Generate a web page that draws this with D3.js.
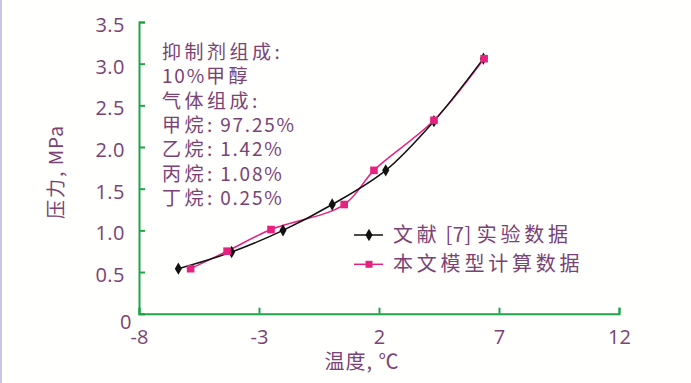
<!DOCTYPE html>
<html><head><meta charset="utf-8">
<script src="https://cdn.jsdelivr.net/npm/d3@7"></script>
<style>
html,body{margin:0;padding:0;background:#fffffd;}
svg{display:block;}
</style></head>
<body>
<svg id="c" width="691" height="383"></svg>
<script>
const xTicks = [-8, -3, 2, 7, 12];
const yTicks = [0, 0.5, 1.0, 1.5, 2.0, 2.5, 3.0, 3.5];
const yTickLabels = ["0", "0.5", "1.0", "1.5", "2.0", "2.5", "3.0", "3.5"];
const expTemp = [-6.36, -4.14, -2.0, 0.05, 2.28, 4.29, 6.35];
const expPres = [0.54, 0.74, 1.0, 1.31, 1.72, 2.31, 3.06];
const modTemp = [-5.85, -4.33, -2.5, 0.55, 1.79, 4.29, 6.38];
const modPres = [0.54, 0.75, 1.01, 1.31, 1.72, 2.32, 3.06];
const seriesNames = ["文献 [7] 实验数据", "本文模型计算数据"];
const noteLines = ["抑制剂组成:", "10%甲醇", "气体组成:", "甲烷: 97.25%", "乙烷: 1.42%", "丙烷: 1.08%", "丁烷: 0.25%"];
const xTitle = "温度, ℃";
const yTitle = "压力, MPa";

const TXT = "#7b4275", GREEN = "#22a34a", PINK = "#e8207f";
const CJK_FONT = "Noto Sans CJK SC, sans-serif";
const svg = d3.select("#c");
svg.append("rect").attr("x",0).attr("y",0).attr("width",2).attr("height",383).attr("fill","#cbc3e3");

const x = d3.scaleLinear().domain([-8, 12]).range([139, 619]);
const y = d3.scaleLinear().domain([0, 3.5]).range([313.7, 22]);

// text with separate spacing for CJK and Latin runs
function mixedText(sel, str, cjkSpace, latSpace) {
  const runs = str.match(/[\u3000-\u9fff\uff00-\uffef]+|[^\u3000-\u9fff\uff00-\uffef]+/g);
  runs.forEach(r => {
    const isCjk = /[\u3000-\u9fff\uff00-\uffef]/.test(r);
    sel.append("tspan").style("letter-spacing", (isCjk ? cjkSpace : latSpace) + "px").text(r);
  });
}

// axes
const xAxis = svg.append("g").attr("transform", `translate(0,${y(0)})`)
  .call(d3.axisBottom(x).tickValues(xTicks).tickSize(-6).tickFormat(d => d));
xAxis.select(".domain").attr("stroke", GREEN).attr("stroke-width", 2);
xAxis.selectAll(".tick line").attr("stroke", GREEN).attr("stroke-width", 2);
xAxis.selectAll(".tick text").attr("fill", TXT).attr("font-family", "Open Sans, sans-serif")
  .attr("font-size", 20).attr("y", 16).attr("dy", "0.71em");

const yAxis = svg.append("g").attr("transform", `translate(${x(-8)},0)`)
  .call(d3.axisLeft(y).tickValues(yTicks).tickSize(-6).tickFormat((d,i) => yTickLabels[i]));
yAxis.select(".domain").attr("stroke", GREEN).attr("stroke-width", 2);
yAxis.selectAll(".tick line").attr("stroke", GREEN).attr("stroke-width", 2);
yAxis.selectAll(".tick text").attr("fill", TXT).attr("font-family", "Open Sans, sans-serif")
  .attr("font-size", 20).attr("x", -14).attr("dy", "0.48em")
  .style("letter-spacing", "0.5px");
yAxis.selectAll(".tick text").filter(d => d === 0).attr("x", -7).attr("dy", "0.72em");

// lines
const line = d3.line().x(d => x(d[0])).y(d => y(d[1])).curve(d3.curveCatmullRom.alpha(0.5));
const expData = expTemp.map((t,i) => [t, expPres[i]]);
const modData = modTemp.map((t,i) => [t, modPres[i]]);

svg.append("path").datum(modData).attr("d", line).attr("fill","none").attr("stroke", PINK).attr("stroke-width", 1.5);
svg.append("path").datum(expData).attr("d", line).attr("fill","none").attr("stroke", "#111").attr("stroke-width", 1.5);

const diamond = d3.symbol().type(d3.symbolDiamond).size(44);
svg.selectAll(".exp").data(expData).join("path").attr("class","exp")
  .attr("d", diamond).attr("transform", d => `translate(${x(d[0])},${y(d[1])})`).attr("fill", "#111");
svg.selectAll(".mod").data(modData).join("rect").attr("class","mod")
  .attr("x", d => x(d[0]) - 3.8).attr("y", d => y(d[1]) - 3.8).attr("width", 7.6).attr("height", 7.6).attr("fill", PINK);

// annotation
const note = svg.append("g").attr("font-family", CJK_FONT).attr("font-size", 19).attr("fill", TXT);
noteLines.forEach((s, i) => {
  const t = note.append("text").attr("x", 162).attr("y", 59 + i * 24.3);
  mixedText(t, s, 3.5, 1.8);
});

// legend
const lg = svg.append("g");
[["#111", "diamond"], [PINK, "square"]].forEach((c, i) => {
  const ly = 235 + i * 29.3;
  lg.append("line").attr("x1", 354).attr("x2", 383).attr("y1", ly).attr("y2", ly).attr("stroke", c[0]).attr("stroke-width", 1.5);
  if (c[1] === "diamond") lg.append("path").attr("d", diamond).attr("transform", `translate(369,${ly})`).attr("fill", c[0]);
  else lg.append("rect").attr("x", 365.5).attr("y", ly - 3.5).attr("width", 7).attr("height", 7).attr("fill", c[0]);
  const t = lg.append("text").attr("x", 393).attr("y", ly + 7).attr("font-family", CJK_FONT)
    .attr("font-size", 20).attr("fill", TXT);
  mixedText(t, seriesNames[i], 3.8, 0.5);
});

// titles
const xt = svg.append("text").attr("x", 362).attr("y", 369).attr("text-anchor", "middle")
  .attr("font-family", CJK_FONT).attr("font-size", 20).attr("fill", TXT);
mixedText(xt, xTitle, 1, 1);
const yt = svg.append("text").attr("transform", "translate(63,172) rotate(-90)").attr("text-anchor", "middle")
  .attr("font-family", CJK_FONT).attr("font-size", 19).attr("fill", TXT);
mixedText(yt, yTitle, 2, 1);
</script>
</body></html>
